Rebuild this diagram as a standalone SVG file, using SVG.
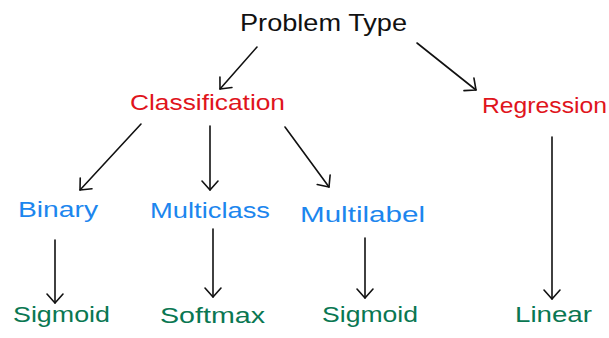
<svg xmlns="http://www.w3.org/2000/svg" width="609" height="338" viewBox="0 0 609 338">
  <style>
    text { font-family: "Liberation Sans", "DejaVu Sans", sans-serif; font-size: 22px; }
    .root { fill: #111; font-size: 24px; }
    .task { fill: #e0141c; }
    .kind { fill: #1c86ee; }
    .act { fill: #0a7752; }
    .edge { stroke: #111; stroke-width: 1.6; fill: none; stroke-linecap: round; marker-end: url(#head); }
  </style>
  <defs>
    <marker id="head" markerUnits="userSpaceOnUse" viewBox="-12 -12 14 24" markerWidth="14" markerHeight="24" refX="0" refY="0" orient="auto" overflow="visible">
      <path d="M-9,-8 L0,0 L-9,8" fill="none" stroke="#111" stroke-width="1.6" stroke-linecap="round" stroke-linejoin="round"/>
    </marker>
  </defs>
  <rect width="609" height="338" fill="#fff"/>

  <g id="connectors">
    <path class="edge" d="M257,47 L220,89"/>
    <path class="edge" d="M417,43 L476,90"/>
    <path class="edge" d="M141,124 L80,190"/>
    <path class="edge" d="M210,126 L210,190"/>
    <path class="edge" d="M285,127 L329,187"/>
    <path class="edge" d="M55,240 L55,303"/>
    <path class="edge" d="M213,229 L213,297"/>
    <path class="edge" d="M365,238 L365,298"/>
    <path class="edge" d="M552,137 L552,299"/>
  </g>

  <g id="problem-type"><text class="root" x="240" y="31" textLength="167" lengthAdjust="spacingAndGlyphs">Problem Type</text></g>
  <g id="classification"><text class="task" x="130" y="110" textLength="155" lengthAdjust="spacingAndGlyphs">Classification</text></g>
  <g id="regression"><text class="task" x="482" y="113" textLength="125" lengthAdjust="spacingAndGlyphs">Regression</text></g>
  <g id="binary"><text class="kind" x="18" y="217" textLength="80" lengthAdjust="spacingAndGlyphs">Binary</text></g>
  <g id="multiclass"><text class="kind" x="150" y="218" textLength="120" lengthAdjust="spacingAndGlyphs">Multiclass</text></g>
  <g id="multilabel"><text class="kind" x="300" y="222" textLength="125" lengthAdjust="spacingAndGlyphs">Multilabel</text></g>
  <g id="sigmoid-binary"><text class="act" x="13" y="322" textLength="97" lengthAdjust="spacingAndGlyphs">Sigmoid</text></g>
  <g id="softmax"><text class="act" x="160" y="323" textLength="105" lengthAdjust="spacingAndGlyphs">Softmax</text></g>
  <g id="sigmoid-multilabel"><text class="act" x="322" y="322" textLength="96" lengthAdjust="spacingAndGlyphs">Sigmoid</text></g>
  <g id="linear"><text class="act" x="515" y="322" textLength="77" lengthAdjust="spacingAndGlyphs">Linear</text></g>
</svg>
